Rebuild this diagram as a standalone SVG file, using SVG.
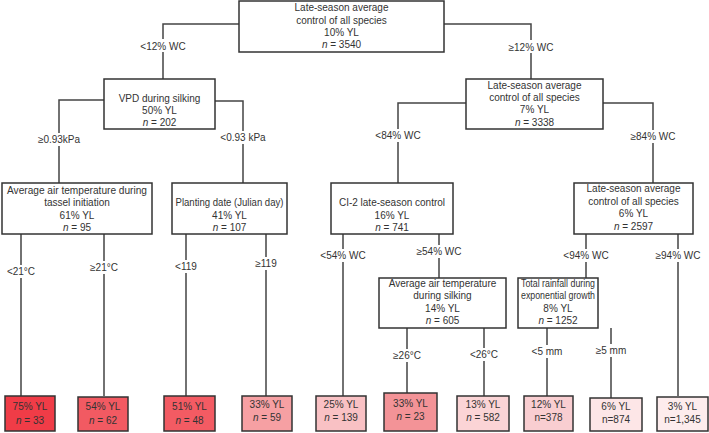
<svg xmlns="http://www.w3.org/2000/svg" width="709" height="433" viewBox="0 0 709 433">
<style>
.b{fill:#fff;stroke:#333;stroke-width:1.5}
.l{fill:#8a8a8a;stroke:#333;stroke-width:1.5}
.c{fill:none;stroke:#444;stroke-width:1.5}
text{font-family:"Liberation Sans",Arial,sans-serif;font-size:10px;fill:#333;text-anchor:middle}
.lb{fill:#fff;stroke:none}
</style>
<rect width="709" height="433" fill="#fff"/>
<g id="connectors">
<path class="c" d="M239 24H163V79M444 24H531V79M104 100H59V183M215 101H243V183M466 103H398V183M603 103H653V183M21 234V396M104 234V396M186 234V396M266 234V396M343 234V396M439 234V278M407 328V393M484 328V396M586 234V278M678 234V396M547 328V396M611 328V398"/>
<g class="lb">
<rect x="136" y="39" width="54" height="13"/><rect x="502" y="40" width="58" height="13"/>
<rect x="28" y="133" width="62" height="13"/><rect x="210" y="131" width="66" height="13"/>
<rect x="370" y="129" width="56" height="13"/><rect x="624" y="130" width="58" height="13"/>
<rect x="4" y="265" width="34" height="13"/><rect x="86" y="261" width="36" height="13"/>
<rect x="169" y="260" width="34" height="13"/><rect x="249" y="257" width="34" height="13"/>
<rect x="316" y="249" width="54" height="13"/><rect x="410" y="245" width="58" height="13"/>
<rect x="557" y="249" width="58" height="13"/><rect x="649" y="249" width="58" height="13"/>
<rect x="389" y="349" width="36" height="13"/><rect x="466" y="348" width="36" height="13"/>
<rect x="528" y="345" width="38" height="13"/><rect x="592" y="344" width="38" height="13"/>
</g>
<text x="163" y="50">&lt;12% WC</text><text x="531" y="51">≥12% WC</text>
<text x="59" y="143">≥0.93kPa</text><text x="243" y="141">&lt;0.93 kPa</text>
<text x="398" y="139">&lt;84% WC</text><text x="653" y="140">≥84% WC</text>
<text x="21" y="275">&lt;21°C</text><text x="104" y="271">≥21°C</text>
<text x="186" y="270">&lt;119</text><text x="266" y="267">≥119</text>
<text x="343" y="259">&lt;54% WC</text><text x="439" y="255">≥54% WC</text>
<text x="586" y="259">&lt;94% WC</text><text x="678" y="259">≥94% WC</text>
<text x="407" y="359">≥26°C</text><text x="484" y="358">&lt;26°C</text>
<text x="547" y="355">&lt;5 mm</text><text x="611" y="354">≥5 mm</text>
</g>
<g id="root"><rect class="b" x="239" y="1" width="205" height="51"/>
<text x="341.5" y="11">Late-season average</text><text x="341.5" y="24">control of all species</text><text x="341.5" y="36">10% YL</text><text x="341.5" y="48"><tspan font-style="italic">n</tspan> = 3540</text></g>
<g id="vpd"><rect class="b" x="104" y="79" width="111" height="50"/>
<text x="159.5" y="102">VPD during silking</text><text x="159.5" y="114">50% YL</text><text x="159.5" y="126"><tspan font-style="italic">n</tspan> = 202</text></g>
<g id="late7"><rect class="b" x="466" y="79" width="137" height="50"/>
<text x="534.5" y="89">Late-season average</text><text x="534.5" y="101">control of all species</text><text x="534.5" y="113">7% YL</text><text x="534.5" y="126"><tspan font-style="italic">n</tspan> = 3338</text></g>
<g id="airtemp"><rect class="b" x="2" y="183" width="150" height="51"/>
<text x="77" y="194" textLength="140" lengthAdjust="spacingAndGlyphs">Average air temperature during</text><text x="77" y="206">tassel initiation</text><text x="77" y="219">61% YL</text><text x="77" y="231"><tspan font-style="italic">n</tspan> = 95</text></g>
<g id="planting"><rect class="b" x="172" y="183" width="115" height="51"/>
<text x="229.5" y="206" textLength="108" lengthAdjust="spacingAndGlyphs">Planting date (Julian day)</text><text x="229.5" y="219">41% YL</text><text x="229.5" y="231"><tspan font-style="italic">n</tspan> = 107</text></g>
<g id="ci2"><rect class="b" x="331" y="183" width="122" height="51"/>
<text x="392" y="206">CI-2 late-season control</text><text x="392" y="219">16% YL</text><text x="392" y="231"><tspan font-style="italic">n</tspan> = 741</text></g>
<g id="late6"><rect class="b" x="574" y="183" width="119" height="51"/>
<text x="633.5" y="192">Late-season average</text><text x="633.5" y="205">control of all species</text><text x="633.5" y="217">6% YL</text><text x="633.5" y="230"><tspan font-style="italic">n</tspan> = 2597</text></g>
<g id="silk"><rect class="b" x="379" y="278" width="127" height="50"/>
<text x="442.5" y="287">Average air temperature</text><text x="442.5" y="299">during silking</text><text x="442.5" y="312">14% YL</text><text x="442.5" y="324"><tspan font-style="italic">n</tspan> = 605</text></g>
<g id="rain"><rect class="b" x="518" y="278" width="80" height="50"/>
<text x="558" y="287" textLength="74" lengthAdjust="spacingAndGlyphs">Total rainfall during</text><text x="558" y="299" textLength="74" lengthAdjust="spacingAndGlyphs">exponential growth</text><text x="558" y="312">8% YL</text><text x="558" y="324"><tspan font-style="italic">n</tspan> = 1252</text></g>
<g id="leaf1"><rect class="l" style="fill:#f03c47" x="5" y="396" width="50" height="35"/><text x="30" y="410">75% YL</text><text x="30" y="424"><tspan font-style="italic">n</tspan> = 33</text></g>
<g id="leaf2"><rect class="l" style="fill:#f25a62" x="78" y="397" width="50" height="34"/><text x="103" y="410">54% YL</text><text x="103" y="424"><tspan font-style="italic">n</tspan> = 62</text></g>
<g id="leaf3"><rect class="l" style="fill:#f35b63" x="164" y="396" width="51" height="35"/><text x="189.5" y="410">51% YL</text><text x="189.5" y="424"><tspan font-style="italic">n</tspan> = 48</text></g>
<g id="leaf4"><rect class="l" style="fill:#f6a0a3" x="242" y="396" width="50" height="35"/><text x="267" y="408">33% YL</text><text x="267" y="421"><tspan font-style="italic">n</tspan> = 59</text></g>
<g id="leaf5"><rect class="l" style="fill:#f9c1c4" x="316" y="396" width="50" height="35"/><text x="341" y="408">25% YL</text><text x="341" y="421"><tspan font-style="italic">n</tspan> = 139</text></g>
<g id="leaf6"><rect class="l" style="fill:#f39397" x="384" y="393" width="53" height="38"/><text x="410.5" y="407">33% YL</text><text x="410.5" y="420"><tspan font-style="italic">n</tspan> = 23</text></g>
<g id="leaf7"><rect class="l" style="fill:#fbd4d6" x="457" y="396" width="52" height="35"/><text x="483" y="408">13% YL</text><text x="483" y="421"><tspan font-style="italic">n</tspan> = 582</text></g>
<g id="leaf8"><rect class="l" style="fill:#f9ced1" x="524" y="396" width="49" height="35"/><text x="548.5" y="408">12% YL</text><text x="548.5" y="421">n=378</text></g>
<g id="leaf9"><rect class="l" style="fill:#fde6e7" x="590" y="398" width="52" height="33"/><text x="616" y="410">6% YL</text><text x="616" y="423">n=874</text></g>
<g id="leaf10"><rect class="l" style="fill:#fdeced" x="657" y="397" width="51" height="34"/><text x="682.5" y="410">3% YL</text><text x="682.5" y="423">n=1,345</text></g>
</svg>
